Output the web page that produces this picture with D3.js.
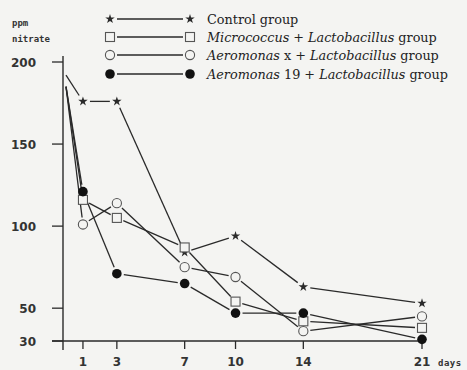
<!DOCTYPE html>
<html>
<head>
<meta charset="utf-8">
<script src="https://cdn.jsdelivr.net/npm/d3@7"></script>
<style>
  html, body { margin: 0; padding: 0; background: #f4f4f2; }
  svg { display: block; }
  .tick-label { font-family: "DejaVu Sans", sans-serif; font-weight: bold; font-size: 12px; fill: #333; }
  .unit { font-family: "DejaVu Sans Mono", monospace; font-weight: bold; font-size: 9px; fill: #333; }
  .legend-text { font-family: "DejaVu Serif", serif; font-size: 12.8px; fill: #222; }
</style>
</head>
<body>
<div id="chart"></div>
<script>
// --- data ---
const days = [0, 1, 3, 7, 10, 14, 21];
const yTicks = [30, 50, 100, 150, 200];
const control = [192, 176, 176, 84, 94, 63, 53];
const micrococcus = [185, 116, 105, 87, 54, 42, 38];
const aeromonasX = [185, 101, 114, 75, 69, 36, 45];
const aeromonas19 = [185, 121, 71, 65, 47, 47, 31];

const series = [
  { name: "control", values: control, marker: "star" },
  { name: "micrococcus", values: micrococcus, marker: "square" },
  { name: "aeromonasX", values: aeromonasX, marker: "circle" },
  { name: "aeromonas19", values: aeromonas19, marker: "dot" }
];

const legendLines = [
  [{ t: "Control group", i: false }],
  [{ t: "Micrococcus", i: true }, { t: " + ", i: false }, { t: "Lactobacillus", i: true }, { t: " group", i: false }],
  [{ t: "Aeromonas", i: true }, { t: " x + ", i: false }, { t: "Lactobacillus", i: true }, { t: " group", i: false }],
  [{ t: "Aeromonas", i: true }, { t: " 19 + ", i: false }, { t: "Lactobacillus", i: true }, { t: " group", i: false }]
];

const width = 467, height = 370;
const ink = "#2a2a2a";

const svg = d3.select("#chart").append("svg")
  .attr("width", width)
  .attr("height", height);

const x = d3.scaleLinear().domain([0, 21]).range([66, 422]);
const y = d3.scaleLinear().domain([30, 200]).range([341, 62]);
const axisX = 63;

// axes lines
svg.append("line").attr("x1", axisX).attr("x2", axisX).attr("y1", 56).attr("y2", 350)
  .attr("stroke", ink).attr("stroke-width", 1.4);
svg.append("line").attr("x1", 52).attr("x2", x(21)).attr("y1", y(30)).attr("y2", y(30))
  .attr("stroke", ink).attr("stroke-width", 1.4);

// y ticks
const yg = svg.append("g");
yg.selectAll("line").data(yTicks).join("line")
  .attr("x1", 52).attr("x2", axisX)
  .attr("y1", d => y(d)).attr("y2", d => y(d))
  .attr("stroke", ink).attr("stroke-width", 1.3);
yg.selectAll("text").data(yTicks).join("text")
  .attr("class", "tick-label")
  .attr("x", 36)
  .attr("y", d => y(d) + 4.5)
  .attr("text-anchor", "end")
  .text(d => d);

// x ticks
const xg = svg.append("g");
xg.selectAll("line").data(days.slice(1)).join("line")
  .attr("x1", d => x(d)).attr("x2", d => x(d))
  .attr("y1", y(30)).attr("y2", y(30) + 8)
  .attr("stroke", ink).attr("stroke-width", 1.3);
xg.selectAll("text").data(days.slice(1)).join("text")
  .attr("class", "tick-label")
  .attr("x", d => x(d))
  .attr("y", 366)
  .attr("text-anchor", "middle")
  .text(d => d);

svg.append("text").attr("class", "unit").attr("x", 438).attr("y", 366)
  .attr("letter-spacing", 0.5).text("days");
svg.append("text").attr("class", "unit").attr("x", 12).attr("y", 26).text("ppm");
svg.append("text").attr("class", "unit").attr("x", 12).attr("y", 42).text("nitrate");

// marker drawing
function drawMarker(g, kind, cx, cy) {
  if (kind === "star") {
    g.append("path")
      .attr("d", d3.symbol(d3.symbolStar, 28)())
      .attr("transform", `translate(${cx},${cy})`)
      .attr("fill", ink);
  } else if (kind === "square") {
    g.append("rect")
      .attr("x", cx - 4.5).attr("y", cy - 4.5)
      .attr("width", 9).attr("height", 9)
      .attr("fill", "#f4f4f2").attr("stroke", "#555").attr("stroke-width", 1.1);
  } else if (kind === "circle") {
    g.append("circle").attr("cx", cx).attr("cy", cy).attr("r", 4.6)
      .attr("fill", "#f4f4f2").attr("stroke", "#555").attr("stroke-width", 1.1);
  } else {
    g.append("circle").attr("cx", cx).attr("cy", cy).attr("r", 4.8)
      .attr("fill", "#111");
  }
}

// segments with small gaps around markers
function segment(g, p0, p1, gap0, gap1) {
  const dx = p1[0] - p0[0], dy = p1[1] - p0[1];
  const len = Math.hypot(dx, dy);
  const ux = dx / len, uy = dy / len;
  g.append("line")
    .attr("x1", p0[0] + ux * gap0).attr("y1", p0[1] + uy * gap0)
    .attr("x2", p1[0] - ux * gap1).attr("y2", p1[1] - uy * gap1)
    .attr("stroke", ink).attr("stroke-width", 1.3);
}

const plot = svg.append("g");
series.forEach(s => {
  const pts = s.values.map((v, i) => [x(days[i]), y(v)]);
  for (let i = 0; i < pts.length - 1; i++) {
    segment(plot, pts[i], pts[i + 1], i === 0 ? 0 : 7, 7);
  }
});
series.forEach(s => {
  s.values.forEach((v, i) => {
    if (i > 0) drawMarker(plot, s.marker, x(days[i]), y(v));
  });
});

// legend
const legendY = [19, 37, 55, 74];
const legend = svg.append("g");
series.forEach((s, i) => {
  const ly = legendY[i];
  segment(legend, [110, ly], [190, ly], 7, 7);
  drawMarker(legend, s.marker, 110, ly);
  drawMarker(legend, s.marker, 190, ly);
  const t = legend.append("text").attr("class", "legend-text")
    .attr("x", 207).attr("y", ly + 4.5);
  legendLines[i].forEach(part => {
    t.append("tspan").attr("font-style", part.i ? "italic" : "normal").text(part.t);
  });
});
</script>
</body>
</html>
